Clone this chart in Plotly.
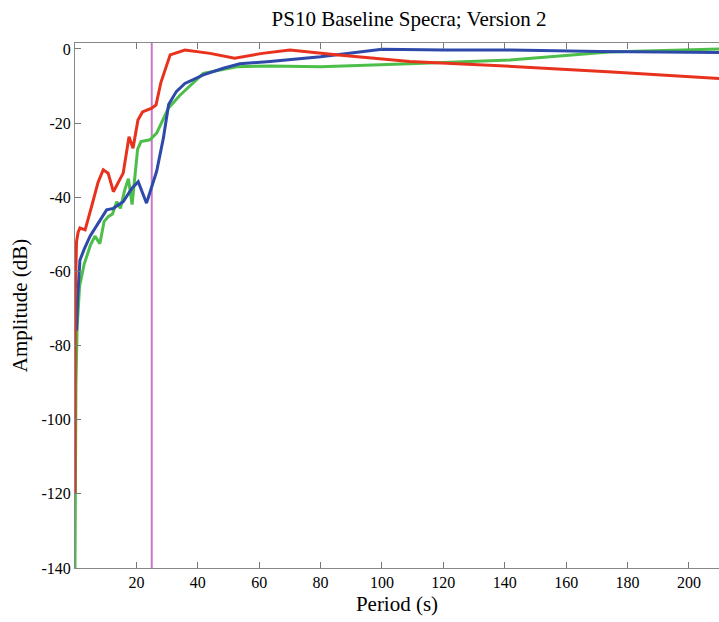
import plotly.graph_objects as go

# ---- data ----
red_x = [0.0, 0.05, 0.5, 1.0, 1.6, 3.3, 5.4, 7.5, 9.2, 10.8, 12.5, 14.1, 15.7, 17.6, 18.9,
         20.5, 22.0, 25.0, 26.4, 28.0, 31.0, 35.8, 44.0, 52.0, 61.0, 70.0, 80.0, 85.0,
         109.0, 140.0, 175.0, 212.0]
red_y = [-120, -68, -52, -49.5, -48.3, -48.8, -42.5, -36, -32.6, -33.5, -38.5, -35.8, -33.5,
         -23.7, -26.8, -19.2, -17, -16, -15.1, -9, -1.6, -0.3, -1.2, -2.5, -1.2, -0.3, -1.2,
         -1.6, -3.4, -4.6, -6.2, -8.1]

green_x = [0.0, 0.02, 0.1, 0.3, 0.7, 1.5, 3.0, 5.0, 6.5, 8.1, 9.5, 10.9, 12.2, 13.6, 14.8,
           16.2, 17.4, 18.6, 20.4, 21.5, 24.4, 26.6, 30.4, 34.2, 41.8, 52.7, 63.5, 80.0,
           109.0, 141.7, 174.0, 204.0, 212.0]
green_y = [-140, -140, -120, -91, -75, -64, -58, -53, -50.5, -52.5, -46.5, -45.2, -44.5, -41.2,
           -43, -38, -35, -42, -27, -25, -24.5, -22.7, -16, -12.5, -6.6, -4.8, -4.6, -4.8,
           -4, -3, -0.8, -0.2, 0]

blue_x = [0.5, 0.8, 1.6, 3.0, 4.9, 7.5, 10.3, 12.5, 15.7, 18.5, 20.6, 23.3, 26.6, 28.8,
          30.5, 33.0, 35.8, 41.8, 48.3, 53.7, 63.5, 80.0, 100.0, 120.0, 142.0, 171.0, 212.0]
blue_y = [-76, -68, -57, -54, -50.5, -47, -43.4, -43, -41.2, -37.6, -35.8, -41.6, -33, -24,
          -15, -11.5, -9.3, -7, -5.2, -4, -3.4, -2.1, -0.1, -0.3, -0.3, -0.7, -1.0]

marker_x = [25.0, 25.0]
marker_y = [-140, 1.6]

x_ticks = [20, 40, 60, 80, 100, 120, 140, 160, 180, 200]
y_ticks = [0, -20, -40, -60, -80, -100, -120, -140]
y_tick_text = [str(v) for v in y_ticks]

SERIF = "Liberation Serif, Times New Roman, serif"

fig = go.Figure()
fig.add_trace(go.Scatter(x=marker_x, y=marker_y, mode="lines",
                         line=dict(color="#C878C8", width=2), showlegend=False))
fig.add_trace(go.Scatter(x=green_x, y=green_y, mode="lines",
                         line=dict(color="#4DBE4A", width=3), showlegend=False))
fig.add_trace(go.Scatter(x=blue_x, y=blue_y, mode="lines",
                         line=dict(color="#2D4AAA", width=3), showlegend=False))
fig.add_trace(go.Scatter(x=red_x, y=red_y, mode="lines",
                         line=dict(color="#E8321E", width=3), showlegend=False))

fig.update_layout(
    width=719, height=622,
    margin=dict(l=75, r=0, t=43, b=54),
    paper_bgcolor="white", plot_bgcolor="white",
    font=dict(family=SERIF, color="black", size=16),
    title=dict(text="PS10 Baseline Specra; Version 2", x=409 / 719, xanchor="center",
               y=1 - 19 / 622, yanchor="middle", font=dict(size=21, family=SERIF)),
    xaxis=dict(range=[0, 209.8], tickvals=x_ticks, ticks="inside", ticklen=6,
               tickcolor="#777", showline=True, linecolor="#888", linewidth=1,
               mirror="ticks", showgrid=False, zeroline=False,
               tickfont=dict(size=16, family=SERIF),
               title=dict(text="Period (s)", font=dict(size=21, family=SERIF), standoff=6)),
    yaxis=dict(range=[-140, 1.6], tickvals=y_ticks, ticktext=y_tick_text, ticks="inside",
               ticklen=6, tickcolor="#777", showline=True, linecolor="#888", linewidth=1,
               showgrid=False, zeroline=False,
               tickfont=dict(size=16, family=SERIF),
               title=dict(text="Amplitude (dB)", font=dict(size=21, family=SERIF), standoff=8)),
)

fig.write_html("out.html")
